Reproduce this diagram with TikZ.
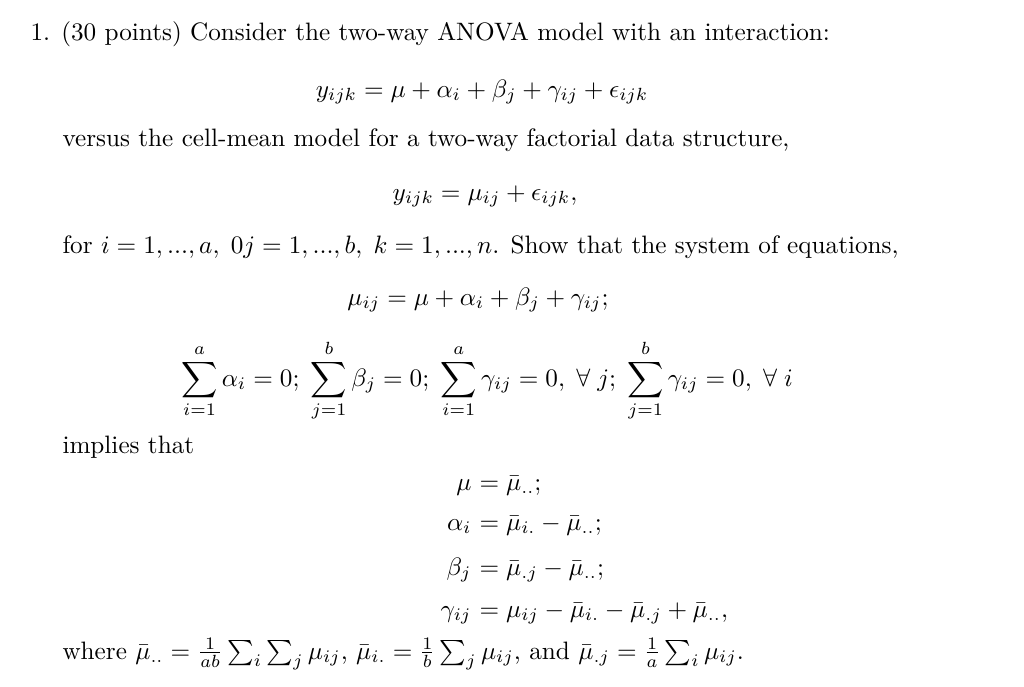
\documentclass[tikz,border=0pt]{standalone}
\usepackage{amsmath,amssymb}
\begin{document}
\begin{tikzpicture}[x=0.397pt,y=-0.397pt,
  txt/.style={anchor=base west,inner sep=0pt},
  eqc/.style={anchor=base,inner sep=0pt},
  lhs/.style={anchor=base east,inner sep=0pt},
  rhs/.style={anchor=base west,inner sep=0pt}]
\useasboundingbox (0,0) rectangle (1024,686);
\node[txt] (l1) at (30,40) {1. (30 points) Consider the two-way ANOVA model with an interaction:};
\node[eqc] (e1) at (482,97) {$y_{ijk}=\mu+\alpha_i+\beta_j+\gamma_{ij}+\epsilon_{ijk}$};
\node[txt] (l2) at (62,146) {versus the cell-mean model for a two-way factorial data structure,};
\node[eqc] (e2) at (485,200) {$y_{ijk}=\mu_{ij}+\epsilon_{ijk},$};
\node[txt] (l3) at (62,253) {for $i=1,...,a,\;0j=1,...,b,\;k=1,...,n$. Show that the system of equations,};
\node[eqc] (e3) at (478,305) {$\mu_{ij}=\mu+\alpha_i+\beta_j+\gamma_{ij};$};
\node[eqc] (e4) at (487,386) {$\displaystyle\sum_{i=1}^{a}\alpha_i=0;\;\sum_{j=1}^{b}\beta_j=0;\;\sum_{i=1}^{a}\gamma_{ij}=0,\;\forall\;j;\;\sum_{j=1}^{b}\gamma_{ij}=0,\;\forall\;i$};
\node[txt] (l4) at (62,453) {implies that};
\node[lhs] (a1) at (472,490) {$\mu$};
\node[rhs] (b1) at (472,490) {${}=\bar\mu_{..};$};
\node[lhs] (a2) at (472,530) {$\alpha_i$};
\node[rhs] (b2) at (472,530) {${}=\bar\mu_{i.}-\bar\mu_{..};$};
\node[lhs] (a3) at (472,575) {$\beta_j$};
\node[rhs] (b3) at (472,575) {${}=\bar\mu_{.j}-\bar\mu_{..};$};
\node[lhs] (a4) at (472,617) {$\gamma_{ij}$};
\node[rhs] (b4) at (472,617) {${}=\mu_{ij}-\bar\mu_{i.}-\bar\mu_{.j}+\bar\mu_{..},$};
\node[txt] (l5) at (62,659) {where $\bar\mu_{..}=\frac{1}{ab}\sum_i\sum_j\mu_{ij}$, $\bar\mu_{i.}=\frac{1}{b}\sum_j\mu_{ij}$, and $\bar\mu_{.j}=\frac{1}{a}\sum_i\mu_{ij}$.};
\end{tikzpicture}
\end{document}
